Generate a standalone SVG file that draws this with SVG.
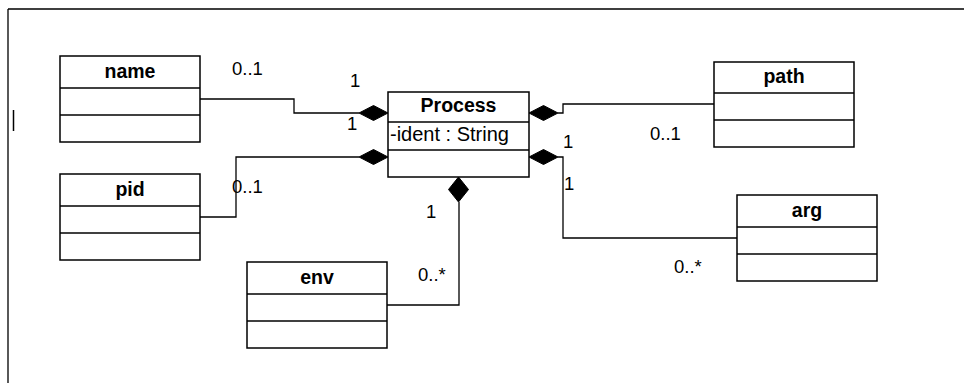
<svg xmlns="http://www.w3.org/2000/svg" width="964" height="383" viewBox="0 0 964 383">
<style>
.box{fill:#fff;stroke:#000;stroke-width:1.5}
.div{stroke:#000;stroke-width:1.5}
.con{fill:none;stroke:#000;stroke-width:1.3}
.dia{fill:#000;stroke:#000;stroke-width:1}
.title{font-family:"Liberation Sans",Arial,sans-serif;font-weight:bold;font-size:19.5px;text-anchor:middle;fill:#000}
.attr{font-family:"Liberation Sans",Arial,sans-serif;font-size:20px;fill:#000}
.mult{font-family:"Liberation Sans",Arial,sans-serif;font-size:18.5px;fill:#000}
</style>
<rect width="964" height="383" fill="#fff"/>
<g id="frame">
<path d="M8,9 H964 M8,9 V383" class="con" stroke-width="1.5"/>
<line x1="13.5" y1="110" x2="13.5" y2="131" stroke="#000" stroke-width="1.5"/>
</g>
<g id="connectors">
<path class="con" d="M200,99 H294 V113 H359"/>
<path class="con" d="M200,217 H236 V157 H359"/>
<path class="con" d="M558,113 H563 V104 H714"/>
<path class="con" d="M558,157 H563 V238 H737"/>
<path class="con" d="M387,305 H459 V202"/>
<polygon class="dia" points="388,113 373.5,105.5 359,113 373.5,120.5"/>
<polygon class="dia" points="388,157 373.5,149.5 359,157 373.5,164.5"/>
<polygon class="dia" points="529,113 543.5,105.5 558,113 543.5,120.5"/>
<polygon class="dia" points="529,157 543.5,149.5 558,157 543.5,164.5"/>
<polygon class="dia" points="458.5,177 468.5,189.5 458.5,202 448.5,189.5"/>
<text class="mult" x="232" y="75">0..1</text>
<text class="mult" x="350" y="87">1</text>
<text class="mult" x="347" y="130">1</text>
<text class="mult" x="232" y="193">0..1</text>
<text class="mult" x="563" y="148">1</text>
<text class="mult" x="564" y="190">1</text>
<text class="mult" x="650" y="140">0..1</text>
<text class="mult" x="674" y="273">0..*</text>
<text class="mult" x="426" y="218">1</text>
<text class="mult" x="418" y="281">0..*</text>
</g>
<g id="name">
<rect class="box" x="60" y="56" width="140" height="86"/>
<line class="div" x1="60" y1="88" x2="200" y2="88"/>
<line class="div" x1="60" y1="115" x2="200" y2="115"/>
<text class="title" x="130" y="78">name</text>
</g>
<g id="pid">
<rect class="box" x="60" y="174" width="140" height="86"/>
<line class="div" x1="60" y1="206" x2="200" y2="206"/>
<line class="div" x1="60" y1="233" x2="200" y2="233"/>
<text class="title" x="130" y="196">pid</text>
</g>
<g id="Process">
<rect class="box" x="388" y="92" width="141" height="85"/>
<line class="div" x1="388" y1="122" x2="529" y2="122"/>
<line class="div" x1="388" y1="150" x2="529" y2="150"/>
<text class="title" x="458.5" y="112">Process</text>
<text class="attr" x="390" y="141">-ident : String</text>
</g>
<g id="path">
<rect class="box" x="714" y="62" width="140" height="85"/>
<line class="div" x1="714" y1="93" x2="854" y2="93"/>
<line class="div" x1="714" y1="120" x2="854" y2="120"/>
<text class="title" x="784" y="83">path</text>
</g>
<g id="arg">
<rect class="box" x="737" y="195" width="140" height="86"/>
<line class="div" x1="737" y1="227" x2="877" y2="227"/>
<line class="div" x1="737" y1="254" x2="877" y2="254"/>
<text class="title" x="807" y="217">arg</text>
</g>
<g id="env">
<rect class="box" x="247" y="262" width="140" height="86"/>
<line class="div" x1="247" y1="294" x2="387" y2="294"/>
<line class="div" x1="247" y1="321" x2="387" y2="321"/>
<text class="title" x="317" y="284">env</text>
</g>
</svg>
